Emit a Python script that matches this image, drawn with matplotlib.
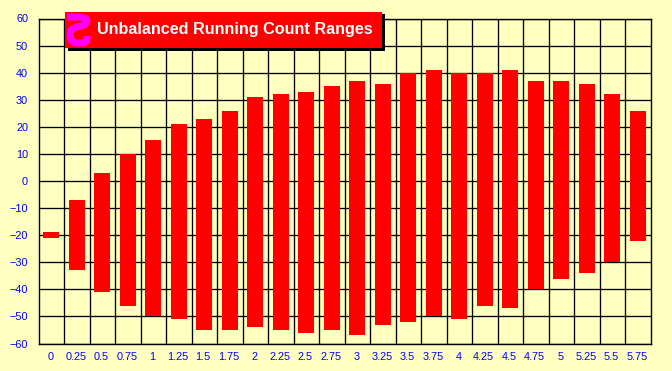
import matplotlib
matplotlib.use("Agg")
import matplotlib.pyplot as plt
from matplotlib.patches import Rectangle
from matplotlib.lines import Line2D
from matplotlib.transforms import ScaledTranslation

categories = ["0", "0.25", "0.5", "0.75", "1", "1.25", "1.5", "1.75", "2", "2.25", "2.5", "2.75",
              "3", "3.25", "3.5", "3.75", "4", "4.25", "4.5", "4.75", "5", "5.25", "5.5", "5.75"]
highs = [-19, -7, 3, 10, 15, 21, 23, 26, 31, 32, 33, 35, 37, 36, 40, 41, 40, 40, 41, 37, 37, 36, 32, 26]
lows = [-21, -33, -41, -46, -50, -51, -55, -55, -54, -55, -56, -55, -57, -53, -52, -50, -51, -46, -47,
        -40, -36, -34, -30, -22]
title = "Unbalanced Running Count Ranges"

W, H = 672, 371
BG = "#FFFFC0"
plt.rcParams["font.family"] = ["Liberation Sans", "DejaVu Sans"]
fig = plt.figure(figsize=(W / 100, H / 100), dpi=100, facecolor=BG)
L, R, T, B = 38.5, 650.5, 18.5, 343.5
ax = fig.add_axes([L / W, 1 - B / H, (R - L) / W, (B - T) / H], facecolor=BG)

x = list(range(len(categories)))
ax.bar(x, [h - l for h, l in zip(highs, lows)], bottom=lows, width=0.63, color="#FF0000", zorder=3)
ax.set_xlim(-0.5, len(categories) - 0.5)
ax.set_ylim(-60, 60)
ax.set_yticks(range(-60, 61, 10))
ax.set_xticks(x)
ax.set_xticklabels(categories)
ax.set_xticks([i - 0.5 for i in range(1, len(categories))], minor=True)
ax.grid(True, which="minor", axis="x", color="black", lw=0.95, zorder=1)
ax.grid(True, which="major", axis="y", color="black", lw=0.95, zorder=1)
ax.tick_params(axis="x", which="both", length=0)
ax.tick_params(axis="x", which="major", pad=6.2, labelsize=7.8, labelcolor="#0000FF")
ax.tick_params(axis="y", length=0, pad=7.5, labelsize=7.8, labelcolor="#0000FF")
shift = ScaledTranslation(-1 / 100, 0, fig.dpi_scale_trans)
for lab in ax.get_xticklabels():
    lab.set_transform(lab.get_transform() + shift)
for s in ax.spines.values():
    s.set_linewidth(1.0)
    s.set_zorder(4)

def fx(px):
    return px / W
def fy(py):
    return 1 - py / H

fig.add_artist(Rectangle((fx(68), fy(50.5)), 317 / W, 36 / H, transform=fig.transFigure, fc="black", ec="none", zorder=5))
fig.add_artist(Rectangle((fx(65), fy(47.5)), 317 / W, 35.5 / H, transform=fig.transFigure, fc="#FF0000", ec="none", zorder=6))
glyph_x = [67, 80, 86, 87, 84, 76, 71, 70, 71, 75, 82, 87, 87]
glyph_y = [17, 17, 18.5, 22, 25, 27, 30, 35, 40, 43, 43, 41, 36]
fig.add_artist(Line2D([fx(v) for v in glyph_x], [fy(v) for v in glyph_y], transform=fig.transFigure,
                      color="#FF00FF", lw=5.0, solid_capstyle="butt", solid_joinstyle="round", zorder=7))
fig.text(fx(97), fy(29.5), title, color="white", fontsize=11.6, fontweight="bold", va="center", ha="left", zorder=8)

fig.savefig("out.png", dpi=100, facecolor=BG)
